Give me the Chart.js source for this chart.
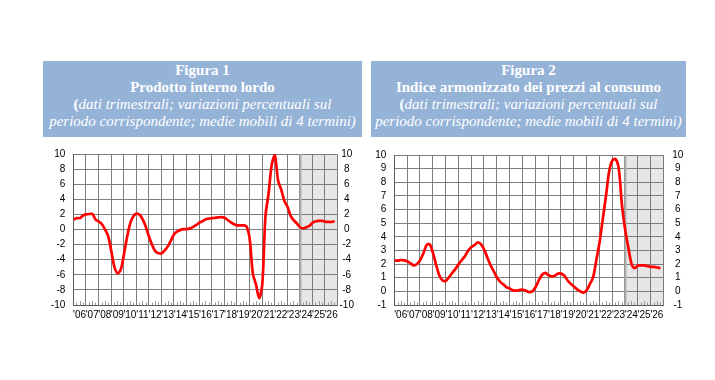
<!DOCTYPE html>
<html><head><meta charset="utf-8">
<script src="https://cdn.jsdelivr.net/npm/chart.js@4/dist/chart.umd.min.js"></script>
<style>
body{margin:0;background:#fff;width:715px;height:380px;position:relative;overflow:hidden}
.hdr{position:absolute;top:61px;height:76px;background:#95b3d7;color:#fff;font-family:"Liberation Serif","Times New Roman",serif;font-size:15px;line-height:17px;text-align:center;padding-top:1px;box-sizing:border-box;white-space:nowrap}
.hdr b{font-weight:bold}
.hdr i{font-style:italic}
.box{position:absolute;top:140px;width:340px;height:190px}
</style></head>
<body>
<div class="hdr" style="left:43px;width:319px"><b>Figura 1</b><br><b>Prodotto interno lordo</b><br><b>(</b><i>dati trimestrali; variazioni percentuali sul</i><br><i>periodo corrispondente; medie mobili di 4 termini)</i></div>
<div class="hdr" style="left:371px;width:315px"><b>Figura 2</b><br><b>Indice armonizzato dei prezzi al consumo</b><br><b>(</b><i>dati trimestrali; variazioni percentuali sul</i><br><i>periodo corrispondente; medie mobili di 4 termini)</i></div>
<div class="box" style="left:30px"><canvas id="c1" width="340" height="190"></canvas></div>
<div class="box" style="left:365px"><canvas id="c2" width="340" height="190"></canvas></div>
<script>
// Year tick labels (one per year, 2006-2026)
const yearLabels = ["'06","'07","'08","'09","'10","'11","'12","'13","'14","'15","'16","'17","'18","'19","'20","'21","'22","'23","'24","'25","'26"];
// Quarterly values 2006Q1 .. 2026Q4
const pilValues = [
  1.3,1.5,1.5,1.85, 2.0,2.05,2.05,1.3, 1.05,0.7,0.0,-0.9, -2.9,-5.0,-5.8,-5.3,
  -3.3,-1.0,0.8,1.75, 2.1,1.95,1.3,0.3, -1.0,-2.1,-2.9,-3.15, -3.15,-2.75,-2.2,-1.4,
  -0.6,-0.25,-0.05,0.05, 0.05,0.15,0.35,0.6, 0.9,1.1,1.35,1.45, 1.5,1.55,1.6,1.65,
  1.55,1.25,0.95,0.7, 0.55,0.55,0.55,0.4, -1.3,-5.9,-7.3,-9.1, -7.2,1.8,4.8,8.6,
  9.8,6.5,5.3,3.8, 3.0,1.8,1.2,0.8, 0.3,0.15,0.3,0.5, 0.9,1.1,1.15,1.15,
  1.05,1.0,1.0,1.1
];
const ipcaValues = [
  2.25,2.25,2.3,2.27, 2.2,2.05,1.9,2.0, 2.3,2.8,3.4,3.45, 2.8,1.9,1.15,0.8,
  0.77,1.05,1.35,1.65, 2.0,2.3,2.6,3.0, 3.25,3.4,3.6,3.45, 3.05,2.45,1.9,1.45,
  1.0,0.7,0.5,0.3, 0.2,0.07,0.05,0.1, 0.12,0.05,-0.05,0.0, 0.3,0.8,1.2,1.35,
  1.2,1.1,1.15,1.3, 1.3,1.15,0.8,0.55, 0.35,0.15,0.0,-0.1, 0.1,0.55,1.05,2.3,
  3.6,5.3,7.0,8.8, 9.6,9.7,9.0,6.3, 4.5,3.2,2.0,1.7, 1.9,1.9,1.9,1.85,
  1.8,1.8,1.75,1.7
];
// Forecast period starts at quarter index 72 (2024Q1)
const forecastStart = 72;
const nQuarters = 84;
const pilTicks = {min:-10, max:10, step:2};
const ipcaTicks = {min:-1, max:10, step:1};

function makeChart(id, values, yt, dims) {
  const pts = values.map((v, i) => ({x: i + 0.1, y: v}));
  const font = {family: "'Liberation Sans', Arial, sans-serif", size: 10};
  const decor = {
    id: 'decor',
    beforeDraw(chart) {
      const xq = chart.scales.xq, a = chart.chartArea, ctx = chart.ctx;
      const x0 = xq.getPixelForValue(forecastStart), x1 = xq.getPixelForValue(nQuarters);
      ctx.save();
      ctx.fillStyle = '#e6e6e6';
      ctx.fillRect(x0, a.top, x1 - x0, a.bottom - a.top);
      ctx.restore();
    },
    beforeDatasetsDraw(chart) {
      const xq = chart.scales.xq, a = chart.chartArea, ctx = chart.ctx;
      ctx.save();
      ctx.strokeStyle = '#9a9a9a';
      ctx.lineWidth = 1;
      for (let q = 1; q < nQuarters; q++) {
        if (q % 4 === 0) continue;
        const x = Math.round(xq.getPixelForValue(q)) + 0.5;
        const len = (q % 4 === 2) ? 4 : 2.5;
        ctx.beginPath();
        ctx.moveTo(x, a.bottom);
        ctx.lineTo(x, a.bottom - len);
        ctx.stroke();
      }
      const xf = Math.round(xq.getPixelForValue(forecastStart)) + 0.5;
      ctx.strokeStyle = '#b0b0b0';
      ctx.lineWidth = 2;
      ctx.beginPath(); ctx.moveTo(xf, a.top); ctx.lineTo(xf, a.bottom); ctx.stroke();
      ctx.restore();
    }
  };
  return new Chart(document.getElementById(id), {
    type: 'line',
    data: {datasets: [{data: pts, xAxisID: 'xq', yAxisID: 'y', borderColor: '#ff0000', borderWidth: 2.7, pointRadius: 0, tension: 0.3, fill: false}]},
    options: {
      responsive: false, animation: false,
      layout: {padding: {top: dims.top, left: 0, right: 0, bottom: 0}},
      plugins: {legend: {display: false}, tooltip: {enabled: false}},
      scales: {
        xq: {type: 'linear', display: false, min: 0, max: nQuarters},
        x: {type: 'category', labels: yearLabels, position: 'bottom', offset: true,
            grid: {offset: true, color: '#7c7c7c', drawTicks: false, lineWidth: 1},
            border: {color: '#5a5a5a'},
            ticks: {autoSkip: false, maxRotation: 0, minRotation: 0, padding: 4, color: '#000', font: font},
            afterFit(s) { s.height = dims.xh; }},
        y: {type: 'linear', position: 'left', min: yt.min, max: yt.max,
            grid: {color: '#7c7c7c', drawTicks: false},
            border: {color: '#5a5a5a'},
            ticks: {stepSize: yt.step, autoSkip: false, padding: 8, color: '#000', font: font},
            afterFit(s) { s.width = dims.yl; }},
        y2: {type: 'linear', position: 'right', min: yt.min, max: yt.max,
            grid: {display: false, drawTicks: false},
            border: {display: false},
            ticks: {stepSize: yt.step, autoSkip: false, padding: dims.rp, crossAlign: 'center', color: '#000', font: font},
            afterFit(s) { s.width = dims.yr; }}
      }
    },
    plugins: [decor]
  });
}
makeChart('c1', pilValues, pilTicks, {top: 13.3, xh: 25, yl: 43.3, yr: 32.5, rp: 2});
makeChart('c2', ipcaValues, ipcaTicks, {top: 13.3, xh: 25, yl: 29.3, yr: 41.7, rp: 9});
</script>
</body></html>
